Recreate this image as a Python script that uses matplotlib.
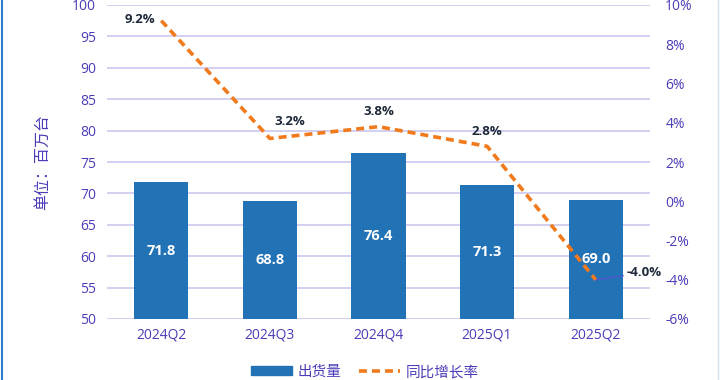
import numpy as np
import matplotlib
matplotlib.use("Agg")
import matplotlib.pyplot as plt
from matplotlib.lines import Line2D
from matplotlib.patches import Patch

plt.rcParams['font.family'] = ['Open Sans', 'Noto Sans CJK SC', 'DejaVu Sans']

quarters = ["2024Q2", "2024Q3", "2024Q4", "2025Q1", "2025Q2"]
shipments = [71.8, 68.8, 76.4, 71.3, 69.0]
growth = [9.2, 3.2, 3.8, 2.8, -4.0]

purple = "#4A3DB8"
grid_c = "#CBC7F0"
bar_c = "#2272B6"
orange = "#F07A1C"
dark = "#1E2A3A"

fig = plt.figure(figsize=(7.2, 3.8), dpi=100)
ax = fig.add_axes([107/720, 61/380, 543/720, 314/380])
ax2 = ax.twinx()

x = np.arange(len(quarters))
ax.bar(x, shipments, width=0.5, color=bar_c, zorder=2)
ax.set_ylim(50, 100)
ax.set_xlim(-0.5, 4.5)
ax.set_yticks(np.arange(50, 101, 5))
ax.set_xticks(x)
ax.set_xticklabels(quarters)
ax.yaxis.grid(True, color=grid_c, lw=1.2, zorder=0)
ax.set_axisbelow(True)
ax.tick_params(axis='y', length=0, pad=8, labelsize=10, labelcolor=purple)
ax.tick_params(axis='x', length=0, pad=6, labelsize=10, labelcolor=purple)
for s in ax.spines.values():
    s.set_visible(False)
ax.set_ylabel("单位：百万台", color=purple, fontsize=11.5, labelpad=15,
              family=['Noto Sans CJK SC', 'DejaVu Sans'])

for xi, v in zip(x, shipments):
    ax.text(xi, 50 + (v - 50) / 2, f"{v:.1f}", ha='center', va='center',
            color='white', fontsize=10.5, fontweight='bold', zorder=4)

ax2.plot(x, growth, color=orange, lw=2.6, ls=(0, (2.2, 1.4)), zorder=5)
ax2.set_ylim(-6, 10)
ax2.set_yticks(np.arange(-6, 11, 2))
ax2.set_yticklabels([f"{t}%" for t in range(-6, 11, 2)])
ax2.tick_params(axis='y', length=0, pad=11, labelsize=10, labelcolor=purple)
for s in ax2.spines.values():
    s.set_visible(False)

lab_kw = dict(color=dark, fontsize=9.5, fontweight='bold')
ax2.annotate(f"{growth[0]:.1f}%", (x[0], growth[0]), xytext=(-4, 1),
             textcoords='offset points', ha='right', va='center', **lab_kw)
offsets = {1: (14, 12), 2: (0, 11), 3: (0, 11)}
for i, (dx, dy) in offsets.items():
    ax2.annotate(f"{growth[i]:.1f}%", (x[i], growth[i]), xytext=(dx, dy),
                 textcoords='offset points', ha='center', va='center', **lab_kw)
ax2.annotate(f"{growth[4]:.1f}%", (x[4], growth[4]), xytext=(22, 5),
             textcoords='offset points', ha='left', va='center',
             arrowprops=dict(arrowstyle='-', color='#5A50D0', lw=0.8,
                             shrinkA=0, shrinkB=0), **lab_kw)

handles = [Patch(color=bar_c),
           Line2D([], [], color=orange, lw=2.6, ls=(0, (2.2, 1.4)))]
fig.legend(handles, ["出货量", "同比增长率"], loc='center', ncol=2,
           bbox_to_anchor=(365/720, 8/380), frameon=False,
           labelcolor=purple, handlelength=2.8, handleheight=0.6,
           columnspacing=1.2, handletextpad=0.4,
           prop={'family': ['Noto Sans CJK SC', 'DejaVu Sans'], 'size': 10.5})

fig.add_artist(Line2D([1.5/720, 1.5/720], [0, 1], color="#2A7FC8", lw=1.5,
                      transform=fig.transFigure))
fig.add_artist(Line2D([718/720, 718/720], [0, 1], color="#CFE3F2", lw=1,
                      transform=fig.transFigure))

fig.savefig("out.png", dpi=100)
